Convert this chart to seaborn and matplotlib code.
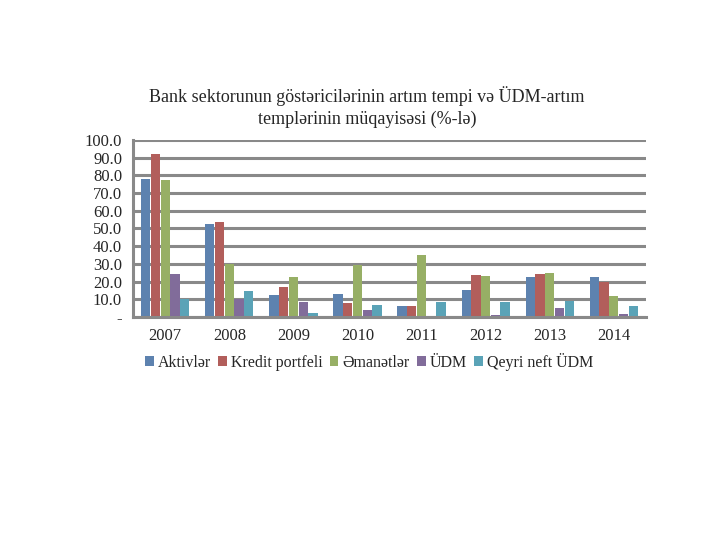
import numpy as np
import pandas as pd
import seaborn as sns
from matplotlib import pyplot as plt

years = ["2007", "2008", "2009", "2010", "2011", "2012", "2013", "2014"]
series = ["Aktivlər", "Kredit portfeli", "Əmanətlər", "ÜDM", "Qeyri neft ÜDM"]
aktivler = [77.8, 52.3, 12.5, 13.1, 6.4, 15.3, 22.7, 22.7]
kredit = [92.0, 53.6, 16.7, 8.0, 6.4, 23.9, 24.4, 19.5]
emanetler = [77.3, 29.9, 22.3, 29.5, 35.2, 23.3, 24.6, 11.6]
udm = [24.4, 10.2, 8.5, 4.0, 0.1, 1.3, 5.1, 1.7]
qeyri_neft = [10.0, 14.8, 2.3, 7.0, 8.5, 8.5, 9.3, 6.4]
colors = ["#4F81BD", "#C0504D", "#9BBB59", "#8064A2", "#4BACC6"]

df = pd.DataFrame({"il": years, series[0]: aktivler, series[1]: kredit,
                   series[2]: emanetler, series[3]: udm, series[4]: qeyri_neft})
df = df.melt(id_vars="il", var_name="gosterici", value_name="deyer")

sns.set_style("white")
plt.rcParams["font.family"] = ["Liberation Serif", "DejaVu Serif"]

fig = plt.figure(figsize=(7.2, 5.4), dpi=100)
ax = fig.add_axes([0.185, 0.413, 0.712, 0.328])
sns.barplot(data=df, x="il", y="deyer", hue="gosterici", palette=colors,
            width=0.76, gap=0.05, linewidth=0, errorbar=None, ax=ax, zorder=3)

ax.set_ylim(0, 100)
ax.set_yticks(np.arange(0, 101, 10))
ax.set_yticklabels(["-"] + [f"{v:.1f}" for v in np.arange(10, 101, 10)], fontsize=12)
ax.tick_params(axis="x", labelsize=12, pad=8, length=0)
ax.tick_params(axis="y", length=0, pad=8)
ax.grid(axis="y", color="#898989", linewidth=2.2, zorder=0)
ax.set_axisbelow(True)
for s in ["top", "right"]:
    ax.spines[s].set_visible(False)
for s in ["left", "bottom"]:
    ax.spines[s].set_color("#898989")
    ax.spines[s].set_linewidth(2.2)
    ax.spines[s].set_zorder(5)
ax.set_xlabel("")
ax.set_ylabel("")

fig.suptitle("Bank sektorunun göstəricilərinin artım tempi və ÜDM-artım\ntemplərinin müqayisəsi (%-lə)",
             x=0.51, y=0.84, fontsize=13, linespacing=1.3)

ax.legend(loc="upper center", bbox_to_anchor=(0.46, -0.12), ncol=5, frameon=False,
          fontsize=11.5, handlelength=0.55, handleheight=0.55, handletextpad=0.25,
          columnspacing=0.45)

fig.savefig("out.png", dpi=100)
